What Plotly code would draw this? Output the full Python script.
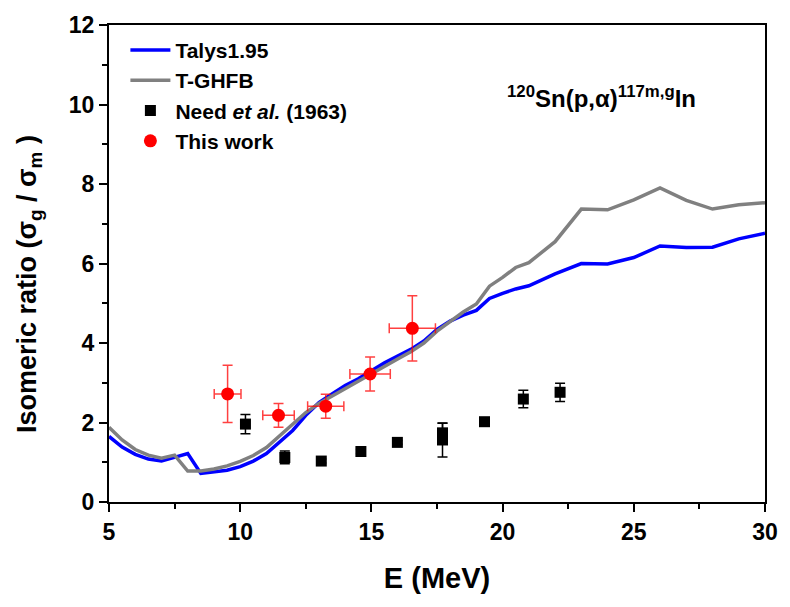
import plotly.graph_objects as go

# Model curves (E in MeV)
E_model = [5, 5.5, 6, 6.5, 7, 7.5, 8, 8.5, 9, 9.5, 10, 10.5, 11, 11.5, 12, 12.5, 13, 13.5,
           14, 14.5, 15, 15.5, 16, 16.5, 17, 17.5, 18, 18.5, 19, 19.5, 20, 20.5, 21, 22,
           23, 24, 25, 26, 27, 28, 29, 30]
talys = [1.65, 1.38, 1.20, 1.08, 1.03, 1.13, 1.22, 0.72, 0.75, 0.80, 0.89, 1.03, 1.22, 1.50,
         1.80, 2.18, 2.50, 2.72, 2.93, 3.10, 3.30, 3.50, 3.67, 3.84, 4.05, 4.34, 4.55, 4.70,
         4.82, 5.12, 5.25, 5.36, 5.44, 5.74, 6.00, 5.99, 6.15, 6.44, 6.40, 6.41, 6.62, 6.76]
tghfb = [1.88, 1.56, 1.32, 1.18, 1.10, 1.18, 0.78, 0.78, 0.83, 0.91, 1.02, 1.17, 1.37, 1.67,
         1.97, 2.25, 2.48, 2.67, 2.86, 3.04, 3.22, 3.42, 3.60, 3.78, 4.00, 4.30, 4.55, 4.78,
         4.98, 5.43, 5.65, 5.90, 6.02, 6.55, 7.37, 7.35, 7.60, 7.90, 7.59, 7.37, 7.48, 7.53]

# Need et al. (1963)
need_E = [10.2, 11.7, 13.09, 14.6, 15.99, 17.71, 17.71, 19.31, 20.79, 22.19]
need_R = [1.96, 1.12, 1.03, 1.27, 1.50, 1.74, 1.56, 2.02, 2.59, 2.76]
need_dR = [0.24, 0.16, 0.05, 0.05, 0.05, 0.24, 0.43, 0.10, 0.22, 0.23]

# This work
tw_E = [9.52, 11.46, 13.26, 14.95, 16.56]
tw_dE = [0.51, 0.60, 0.69, 0.77, 0.88]
tw_R = [2.72, 2.18, 2.41, 3.22, 4.37]
tw_dR = [0.72, 0.30, 0.30, 0.43, 0.82]

FONT = "Liberation Sans, Arial, sans-serif"

fig = go.Figure()
fig.add_trace(go.Scatter(x=E_model, y=talys, mode="lines", name="<b>Talys1.95</b>",
                         line=dict(color="#0000FF", width=3.5)))
fig.add_trace(go.Scatter(x=E_model, y=tghfb, mode="lines", name="<b>T-GHFB</b>",
                         line=dict(color="#808080", width=3.5)))
fig.add_trace(go.Scatter(x=need_E, y=need_R, mode="markers",
                         name="<b>Need <i>et al.</i> (1963)</b>",
                         marker=dict(symbol="square", size=11, color="black"),
                         error_y=dict(type="data", array=need_dR, color="black",
                                      thickness=1.5, width=5)))
fig.add_trace(go.Scatter(x=tw_E, y=tw_R, mode="markers", name="<b>This work</b>",
                         marker=dict(symbol="circle", size=13, color="#FF0000"),
                         error_y=dict(type="data", array=tw_dR, color="rgba(255,0,0,0.75)",
                                      thickness=1.5, width=5),
                         error_x=dict(type="data", array=tw_dE, color="rgba(255,0,0,0.75)",
                                      thickness=1.5, width=5)))

fig.add_annotation(x=23.75, y=10.2, xref="x", yref="y", showarrow=False,
                   text="<b><sup>120</sup>Sn(p,α)<sup>117m,g</sup>In</b>",
                   font=dict(family=FONT, size=24, color="black"))

# y-axis title as a rotated annotation (placed like the reference)
fig.add_annotation(x=-0.122, y=0.457, xref="paper", yref="paper", showarrow=False,
                   xanchor="center", yanchor="middle", textangle=-90,
                   text="<b>Isomeric ratio (σ<sub>g</sub> / σ<sub>m</sub> )</b>",
                   font=dict(family=FONT, size=27, color="black"))

axis_common = dict(showgrid=False, zeroline=False, showline=True, linecolor="black",
                   linewidth=2, mirror=True, ticks="outside", ticklen=8, tickwidth=1.5,
                   tickcolor="black",
                   tickfont=dict(family=FONT, size=23, color="black", weight="bold"))

fig.update_xaxes(range=[5, 30], dtick=5, tick0=5,
                 title=dict(text="<b>E (MeV)</b>", font=dict(family=FONT, size=29, color="black"),
                            standoff=24),
                 minor=dict(ticks="outside", ticklen=5, tickwidth=1.5, tickcolor="black",
                            dtick=2.5, tick0=5),
                 **axis_common)
fig.update_yaxes(range=[0, 12], dtick=2, tick0=0,
                 minor=dict(ticks="outside", ticklen=5, tickwidth=1.5, tickcolor="black",
                            dtick=1, tick0=0),
                 **axis_common)

fig.update_layout(
    width=790, height=607,
    margin=dict(l=109, r=17, t=14, b=105),
    paper_bgcolor="white", plot_bgcolor="white",
    font=dict(family=FONT, color="black"),
    legend=dict(x=0.025, y=0.99, xanchor="left", yanchor="top",
                bgcolor="rgba(0,0,0,0)", borderwidth=0,
                font=dict(family=FONT, size=21, color="black"),
                tracegroupgap=0, itemwidth=40),
    showlegend=True,
)

fig.write_html("out.html")
